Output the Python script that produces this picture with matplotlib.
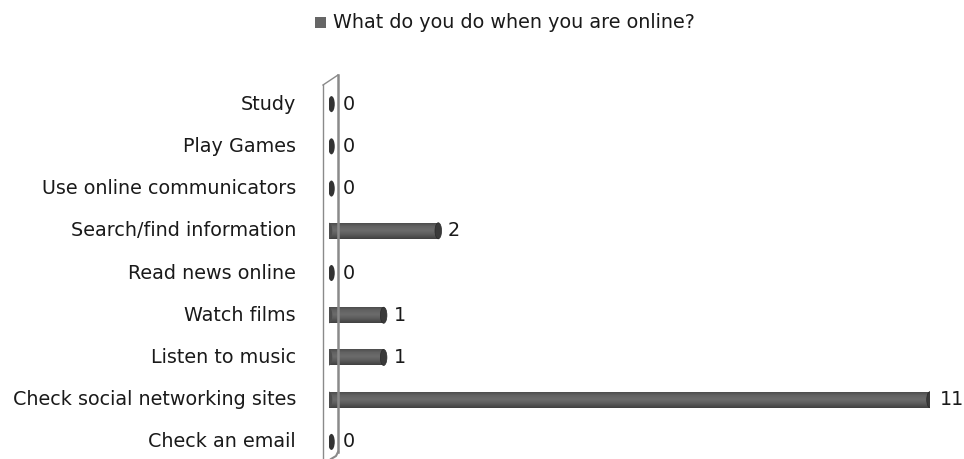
import numpy as np
import matplotlib
matplotlib.use("Agg")
import matplotlib.pyplot as plt
from matplotlib.patches import Ellipse, Rectangle
from matplotlib.lines import Line2D
from matplotlib.colors import LinearSegmentedColormap

categories = ["Check an email", "Check social networking sites", "Listen to music",
              "Watch films", "Read news online", "Search/find information",
              "Use online communicators", "Play Games", "Study"]
values = [0, 11, 1, 1, 0, 2, 0, 0, 0]
series_name = "What do you do when you are online?"

W, H = 964, 459
fig = plt.figure(figsize=(W / 100, H / 100), dpi=100)
x0, x1 = 329, 930
ytop, ybot = 83, 455
ax = fig.add_axes([x0 / W, (H - ybot) / H, (x1 - x0) / W, (ybot - ytop) / H])
ax.set_xlim(0, 11)
ax.set_ylim(-0.31, 8.5)
ax.axis("off")

font = "DejaVu Sans"
fs = 13.8
tcol = "#1a1a1a"
ypos = np.arange(len(categories))
bh = 0.38

cmap = LinearSegmentedColormap.from_list("cyl", ["#474747", "#626262", "#6c6c6c", "#5a5a5a", "#404040"])
grad = np.linspace(0, 1, 64).reshape(-1, 1)


def fx(px):
    return px / W


def fy(py):
    return (H - py) / H


wall_col = "#8a8a8a"
fig.add_artist(Line2D([fx(323), fx(323)], [fy(85), fy(459)], color=wall_col, lw=1.0))
fig.add_artist(Line2D([fx(323), fx(338)], [fy(85), fy(75)], color=wall_col, lw=1.0))
fig.add_artist(Line2D([fx(338), fx(338)], [fy(75), fy(452)], color=wall_col, lw=1.8))
fig.add_artist(Line2D([fx(338), fx(336), fx(331)], [fy(452), fy(456), fy(459)], color=wall_col, lw=1.5))

bars = ax.barh(ypos, values, height=bh, color="#555555", zorder=3)
cap_w = 0.12
for rect, v, y in zip(bars, values, ypos):
    if v > 0:
        im = ax.imshow(grad, cmap=cmap, aspect="auto", extent=(0, v, y - bh / 2, y + bh / 2),
                       origin="upper", zorder=4)
        im.set_clip_path(rect)
        ax.add_patch(Ellipse((0, y), cap_w, bh, facecolor="#4e4e4e", edgecolor="none", zorder=4))
        ax.add_patch(Ellipse((v, y), cap_w, bh, facecolor="#3a3a3a", edgecolor="#2a2a2a", lw=0.5, zorder=5))
        ax.text(v + 0.18, y, str(v), ha="left", va="center", fontsize=fs, family=font, color=tcol)
    else:
        ax.add_patch(Ellipse((0.045, y), cap_w, bh, facecolor="#333333", edgecolor="none", zorder=5))
        ax.text(0.25, y, str(v), ha="left", va="center", fontsize=fs, family=font, color=tcol)

for y, c in zip(ypos, categories):
    fig.text(fx(296), ax.transData.transform((0, y))[1] / H, c, ha="right", va="center",
             fontsize=fs, family=font, color=tcol)

# legend
fig.patches.append(Rectangle((fx(315), fy(28)), 11 / W, 11 / H, transform=fig.transFigure,
                             facecolor="#666666", edgecolor="none"))
fig.text(fx(333), fy(22), series_name, ha="left", va="center", fontsize=fs, family=font, color=tcol)

fig.savefig("out.png", dpi=100)
